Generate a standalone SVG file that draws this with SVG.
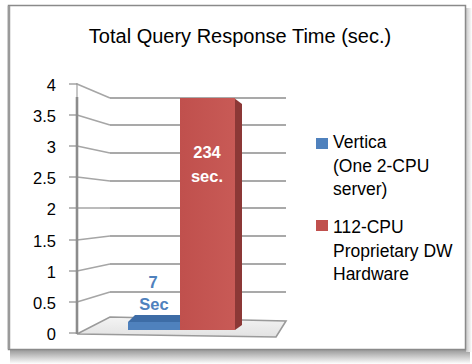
<svg xmlns="http://www.w3.org/2000/svg" width="472" height="364" viewBox="0 0 472 364">
<defs>
<linearGradient id="shadowB" x1="0" y1="0" x2="0" y2="1">
<stop offset="0" stop-color="#9a9a9a"/><stop offset="1" stop-color="#ffffff"/>
</linearGradient>
<linearGradient id="shadowR" x1="0" y1="0" x2="1" y2="0">
<stop offset="0" stop-color="#c8c8c8"/><stop offset="1" stop-color="#ffffff"/>
</linearGradient>
<linearGradient id="floorG" x1="0" y1="0" x2="0" y2="1">
<stop offset="0" stop-color="#f4f4f4"/><stop offset="1" stop-color="#e2e2e2"/>
</linearGradient>
<linearGradient id="redG" x1="0" y1="0" x2="1" y2="0">
<stop offset="0" stop-color="#c0504d"/><stop offset="1" stop-color="#c85a56"/>
</linearGradient>
</defs>
<style>
.t{font-family:"Liberation Sans",Arial,sans-serif;fill:#000}
.ax{font-size:16.5px;text-anchor:end}
.lg{font-size:17.5px}
.grid{stroke:#8c8c8c;stroke-width:1.6;fill:none}
.wall{stroke:#a6a6a6;stroke-width:1.6;fill:none}
.tick{stroke:#8c8c8c;stroke-width:1.2}
.lbl{font-family:"Liberation Sans",Arial,sans-serif;font-weight:bold;font-size:16.5px;text-anchor:middle}
</style>
<rect x="0" y="0" width="472" height="364" fill="#ffffff"/>
<rect x="10" y="350" width="460" height="14" fill="url(#shadowB)"/>
<rect x="466" y="8" width="6" height="344" fill="url(#shadowR)"/>
<rect x="8.5" y="5.5" width="457" height="344" fill="#ffffff" stroke="#8a8a8a" stroke-width="1.5"/>
<line x1="9" y1="6" x2="9" y2="349" stroke="#9a9a9a" stroke-width="2.5"/>
<text class="t" x="240" y="43" font-size="20" text-anchor="middle">Total Query Response Time (sec.)</text>
<g id="axes">
<polygon points="77,334 110,317 286,321 276,337" fill="url(#floorG)" stroke="#9a9a9a" stroke-width="1.6"/>
<g class="wall">
<polyline points="77,84 110,98"/>
<polyline points="77,115 110,125"/>
<polyline points="77,146 110,153"/>
<polyline points="77,177 110,181"/>
<polyline points="77,208 110,208"/>
<polyline points="77,240 110,236"/>
<polyline points="77,271 110,264"/>
<polyline points="77,302 110,292"/>
</g>
<g class="grid">
<line x1="110" y1="98" x2="286" y2="98"/>
<line x1="110" y1="125" x2="286" y2="125"/>
<line x1="110" y1="153" x2="286" y2="153"/>
<line x1="110" y1="181" x2="286" y2="181"/>
<line x1="110" y1="208" x2="286" y2="208"/>
<line x1="110" y1="236" x2="286" y2="236"/>
<line x1="110" y1="264" x2="286" y2="264"/>
<line x1="110" y1="292" x2="286" y2="292"/>
</g>
<line x1="77" y1="83" x2="77" y2="97" stroke="#a0a0a0" stroke-width="1.2"/>
<line x1="77" y1="97" x2="77" y2="334" stroke="#8c8c8c" stroke-width="2.6"/>
<g class="tick">
<line x1="69" y1="84" x2="77" y2="84"/>
<line x1="69" y1="115" x2="77" y2="115"/>
<line x1="69" y1="146" x2="77" y2="146"/>
<line x1="69" y1="177" x2="77" y2="177"/>
<line x1="69" y1="208" x2="77" y2="208"/>
<line x1="69" y1="240" x2="77" y2="240"/>
<line x1="69" y1="271" x2="77" y2="271"/>
<line x1="69" y1="302" x2="77" y2="302"/>
<line x1="69" y1="333" x2="77" y2="333"/>
</g>
<g class="t ax">
<text x="56" y="91">4</text>
<text x="56" y="122">3.5</text>
<text x="56" y="153">3</text>
<text x="56" y="184">2.5</text>
<text x="56" y="215">2</text>
<text x="56" y="247">1.5</text>
<text x="56" y="278">1</text>
<text x="56" y="309">0.5</text>
<text x="56" y="340">0</text>
</g>
</g>
<g id="bar-vertica">
<polygon points="128,322 135,315 183,315 181,322" fill="#3d6ca6"/>
<rect x="128" y="322" width="53" height="8" fill="#4f81bd"/>
<text class="lbl" x="153" y="288" fill="#4f81bd">7</text>
<text class="lbl" x="154" y="310" fill="#4f81bd">Sec</text>
</g>
<g id="bar-proprietary">
<polygon points="234,98 242,104 242,325 235,330" fill="#8c3836"/>
<rect x="180" y="98" width="55" height="232" fill="url(#redG)"/>
<text class="lbl" x="207" y="158" fill="#ffffff">234</text>
<text class="lbl" x="207" y="182" fill="#ffffff">sec.</text>
</g>
<g id="legend">
<rect x="316" y="138" width="12" height="11" fill="#4f81bd"/>
<text class="t lg" x="333" y="148">Vertica</text>
<text class="t lg" x="333" y="172">(One 2-CPU</text>
<text class="t lg" x="333" y="195">server)</text>
<rect x="316" y="220" width="12" height="11" fill="#c0504d"/>
<text class="t lg" x="333" y="233">112-CPU</text>
<text class="t lg" x="333" y="257">Proprietary DW</text>
<text class="t lg" x="333" y="280">Hardware</text>
</g>
</svg>
